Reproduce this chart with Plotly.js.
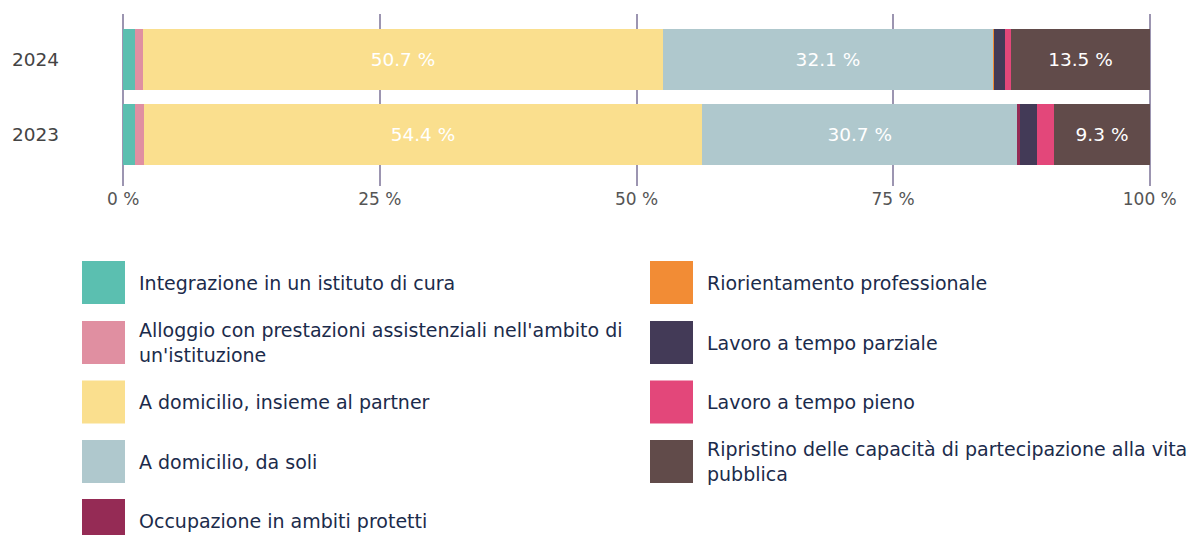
<!DOCTYPE html>
<html>
<head>
<meta charset="utf-8">
<script src="https://cdn.plot.ly/plotly-3.0.1.min.js"></script>
<style>html,body{margin:0;padding:0;background:#fff;}#chart{width:1197px;height:535px;}</style>
</head>
<body>
<div id="chart"></div>
<script>
const years = ["2023", "2024"];
const seriesNames = [
  "Integrazione in un istituto di cura",
  "Alloggio con prestazioni assistenziali nell'ambito di<br>un'istituzione",
  "A domicilio, insieme al partner",
  "A domicilio, da soli",
  "Occupazione in ambiti protetti",
  "Riorientamento professionale",
  "Lavoro a tempo parziale",
  "Lavoro a tempo pieno",
  "Ripristino delle capacità di partecipazione alla vita<br>pubblica"
];
const seriesColors = ["#5BBFB0", "#E08FA1", "#FADF8E", "#AFC8CD", "#952B55", "#F28C35", "#433A57", "#E3477A", "#614B4A"];
// values per series: [2023, 2024]
const v_integrazione = [1.1, 1.1];
const v_alloggio = [0.9, 0.8];
const v_partner = [54.4, 50.7];
const v_soli = [30.7, 32.1];
const v_protetti = [0.3, 0.0];
const v_riorientamento = [0.0, 0.1];
const v_parziale = [1.6, 1.1];
const v_pieno = [1.7, 0.6];
const v_ripristino = [9.3, 13.5];
const seriesValues = [v_integrazione, v_alloggio, v_partner, v_soli, v_protetti, v_riorientamento, v_parziale, v_pieno, v_ripristino];
const xTickVals = [0, 25, 50, 75, 100];
const xTickText = ["0 %", "25 %", "50 %", "75 %", "100 %"];

const FONT = "'DejaVu Sans', 'Noto Sans', sans-serif";

const traces = seriesValues.map((vals, i) => ({
  type: "bar",
  orientation: "h",
  name: seriesNames[i],
  y: years,
  x: vals,
  marker: {color: seriesColors[i], line: {width: 0}},
  text: vals.map(v => v >= 5 ? v.toFixed(1) + " %" : ""),
  textposition: "inside",
  insidetextanchor: "middle",
  textfont: {color: "#ffffff", size: 18.5, family: FONT},
  hoverinfo: "x+name",
  showlegend: false
}));

// custom legend (two columns, column-major)
const shapes = [];
const annotations = [];
const W = 1197, H = 535;
const PL = 122, PW = 1029, PT = 14, PH = 172;
const colX = [82, 650];
const rowY = [261, 321, 380.5, 440, 499];
const sw = 43;
seriesNames.forEach((name, i) => {
  const col = i < 5 ? 0 : 1;
  const row = i < 5 ? i : i - 5;
  const x0 = colX[col], y0 = rowY[row];
  shapes.push({type: "rect", xref: "paper", yref: "paper", layer: "above",
    x0: (x0 - PL) / PW, x1: (x0 + sw - PL) / PW,
    y0: 1 - (y0 - PT) / PH - sw / PH, y1: 1 - (y0 - PT) / PH,
    fillcolor: seriesColors[i], line: {width: 0}});
  annotations.push({xref: "paper", yref: "paper", showarrow: false,
    x: (x0 + sw + 12 - PL) / PW, xanchor: "left",
    y: 1 - (y0 + sw / 2 - PT) / PH, yanchor: "middle",
    align: "left", text: name,
    font: {family: FONT, size: 19, color: "#1B2B4B"}});
});

const layout = {
  width: W, height: H,
  margin: {l: PL, r: W - PL - PW, t: PT, b: H - PT - PH},
  paper_bgcolor: "#ffffff",
  plot_bgcolor: "#ffffff",
  barmode: "stack",
  bargap: 0.187,
  showlegend: false,
  xaxis: {
    range: [-0.12, 100.12], tickvals: xTickVals, ticktext: xTickText,
    showgrid: true, gridcolor: "#9C95B1", gridwidth: 2,
    zeroline: false, showline: false, ticks: "",
    ticklabelstandoff: 1,
    tickfont: {family: FONT, size: 17, color: "#555555"},
    fixedrange: true
  },
  yaxis: {
    type: "category", range: [-0.68, 1.6],
    showgrid: false, zeroline: false, showline: false, ticks: "",
    ticklabelstandoff: 62,
    tickfont: {family: FONT, size: 18.5, color: "#444444"},
    fixedrange: true
  },
  shapes: shapes,
  annotations: annotations
};

Plotly.newPlot("chart", traces, layout, {displayModeBar: false, staticPlot: true});
</script>
</body>
</html>
